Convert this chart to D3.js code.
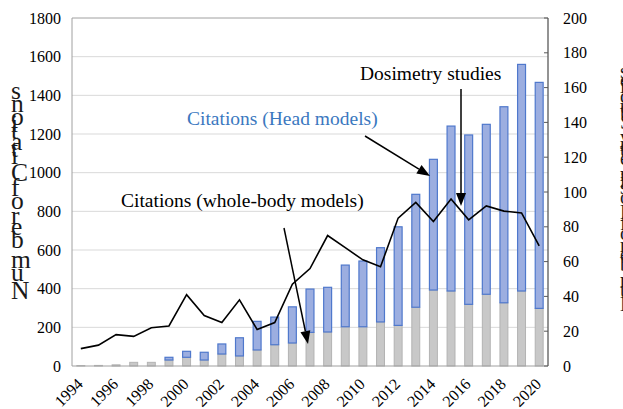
<!DOCTYPE html>
<html><head><meta charset="utf-8">
<script src="https://cdn.jsdelivr.net/npm/d3@7/dist/d3.min.js"></script>
<style>
html,body{margin:0;padding:0;background:#fff;}
svg{display:block;font-family:"Liberation Serif","Times New Roman",serif;}
</style></head>
<body>
<svg id="chart" width="623" height="409"></svg>
<script>
const years = d3.range(1994, 2021);
const wholeBodyCitations = [2,3,6,19,19,31,45,31,62,52,83,110,119,174,176,203,203,228,210,304,393,388,319,371,327,388,298];
const headCitations = [0,0,0,0,0,14,31,40,52,94,148,143,187,224,231,319,340,384,510,584,676,853,876,879,1014,1172,1169];
const dosimetryStudies = [10,12,18,17,22,23,41,29,25,38,21,25,47,56,75,68,61,57,85,94,83,96,84,92,89,88,69];
const leftTicks = d3.range(0, 1801, 200);
const rightTicks = d3.range(0, 201, 20);
const yearLabels = years.filter(y => y % 2 === 0);

const svg = d3.select("#chart");
const L = 72, R = 548, T = 18, B = 366;
const x = d3.scaleBand().domain(years).range([L, R]).paddingInner(0.55).paddingOuter(0.275);
const yL = d3.scaleLinear().domain([0, 1800]).range([B, T]);
const yR = d3.scaleLinear().domain([0, 200]).range([B, T]);

// gridlines
svg.append("g").selectAll("line").data(leftTicks.slice(1, -1)).join("line")
  .attr("x1", L).attr("x2", R).attr("y1", d => yL(d)).attr("y2", d => yL(d))
  .attr("stroke", "#d9d9d9").attr("stroke-width", 1);

// bars
const data = years.map((yr, i) => ({yr, g: wholeBodyCitations[i], h: headCitations[i]}));
const bars = svg.append("g");
bars.selectAll("rect.g").data(data).join("rect").attr("class", "g")
  .attr("x", d => x(d.yr)).attr("width", x.bandwidth())
  .attr("y", d => yL(d.g)).attr("height", d => yL(0) - yL(d.g))
  .attr("fill", "#c8c8c8").attr("stroke", "#b3b3b3").attr("stroke-width", 1);
bars.selectAll("rect.h").data(data.filter(d => d.h > 0)).join("rect").attr("class", "h")
  .attr("x", d => x(d.yr)).attr("width", x.bandwidth())
  .attr("y", d => yL(d.g + d.h)).attr("height", d => yL(d.g) - yL(d.g + d.h))
  .attr("fill", "#9caee0").attr("stroke", "#4f78cc").attr("stroke-width", 1.2);

// line
const line = d3.line().x((d, i) => x(years[i]) + x.bandwidth() / 2).y(d => yR(d));
svg.append("path").datum(dosimetryStudies).attr("d", line)
  .attr("fill", "none").attr("stroke", "#000").attr("stroke-width", 1.6).attr("stroke-linejoin", "miter");

// frame
svg.append("line").attr("x1", L).attr("x2", R).attr("y1", T).attr("y2", T).attr("stroke", "#a0a0a0");
svg.append("line").attr("x1", L).attr("x2", R).attr("y1", B).attr("y2", B).attr("stroke", "#a0a0a0");
svg.append("line").attr("x1", L).attr("x2", L).attr("y1", T).attr("y2", B).attr("stroke", "#a0a0a0");
svg.append("line").attr("x1", R).attr("x2", R).attr("y1", T).attr("y2", B).attr("stroke", "#595959").attr("stroke-width", 1.3);

// left axis labels
svg.append("g").selectAll("text").data(leftTicks).join("text")
  .attr("x", 61).attr("y", d => yL(d) + 5.5).attr("text-anchor", "end")
  .attr("font-size", 16).attr("fill", "#000").text(d => d);

// right axis ticks and labels
svg.append("g").selectAll("line").data(rightTicks).join("line")
  .attr("x1", R - 4).attr("x2", R).attr("y1", d => yR(d)).attr("y2", d => yR(d))
  .attr("stroke", "#595959");
svg.append("g").selectAll("text").data(rightTicks).join("text")
  .attr("x", 563).attr("y", d => yR(d) + 5.5).attr("text-anchor", "start")
  .attr("font-size", 16).attr("fill", "#000").text(d => d);

// x labels
svg.append("g").selectAll("text").data(yearLabels).join("text")
  .attr("transform", d => `translate(${x(d) + x.bandwidth() / 2 + 3},${385}) rotate(-45)`)
  .attr("text-anchor", "end").attr("font-size", 16).attr("fill", "#000").text(d => d);

// axis titles (stacked upright letters)
svg.append("text").attr("transform", "translate(11,299) rotate(-90)")
  .attr("rotate", 90).attr("font-size", 25.5).attr("fill", "#1a1a1a").text("Number of Citations");
svg.append("text").attr("transform", "translate(620,311) rotate(-90)")
  .attr("rotate", 90).attr("font-size", 20).attr("fill", "#1a1a1a").text("Number of Dosimetry Studies");

// annotations
svg.append("text").attr("x", 187).attr("y", 125).attr("font-size", 19.5).attr("fill", "#3b78c0").text("Citations (Head models)");
svg.append("text").attr("x", 121).attr("y", 207).attr("font-size", 19.5).attr("fill", "#000").text("Citations (whole-body models)");
svg.append("text").attr("x", 360).attr("y", 80).attr("font-size", 19.5).attr("fill", "#000").text("Dosimetry studies");

function arrow(x1, y1, x2, y2) {
  const a = Math.atan2(y2 - y1, x2 - x1), len = 13, w = 5;
  const bx = x2 - len * Math.cos(a), by = y2 - len * Math.sin(a);
  svg.append("line").attr("x1", x1).attr("y1", y1).attr("x2", bx).attr("y2", by)
    .attr("stroke", "#000").attr("stroke-width", 1.5);
  const px = -Math.sin(a) * w, py = Math.cos(a) * w;
  svg.append("path").attr("d", `M${x2},${y2}L${bx + px},${by + py}L${bx - px},${by - py}Z`).attr("fill", "#000");
}
arrow(365, 136, 430, 176);
arrow(461, 89, 461, 206);
arrow(284, 228, 308, 344);
</script>
</body></html>
